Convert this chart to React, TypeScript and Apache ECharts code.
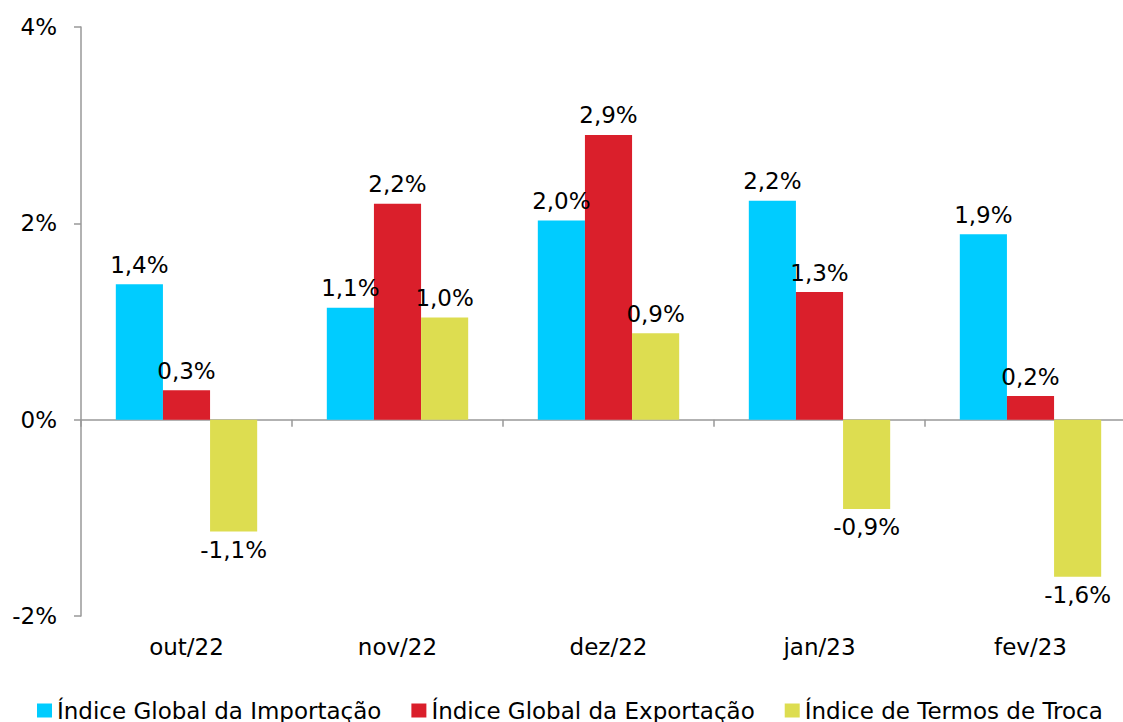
import React, { useEffect, useRef } from "react";
import * as echarts from "echarts";

const categories = ["out/22", "nov/22", "dez/22", "jan/23", "fev/23"];
const seriesNames = [
  "Índice Global da Importação",
  "Índice Global da Exportação",
  "Índice de Termos de Troca",
];
const importacao = [1.38, 1.14, 2.03, 2.23, 1.89];
const exportacao = [0.3, 2.2, 2.9, 1.3, 0.24];
const termos = [-1.14, 1.04, 0.88, -0.91, -1.6];
const colors = ["#00CCFF", "#DA1F2B", "#DDDD50"];
const yTicks = { min: -2, max: 4, interval: 2 };

const FONT = "'DejaVu Sans', 'Liberation Sans', Arial, sans-serif";
const FS = 23;

function fmt(v: number) {
  return v.toFixed(1).replace(".", ",") + "%";
}

export default function App() {
  const ref = useRef<HTMLDivElement>(null);
  useEffect(() => {
    if (!ref.current) return;
    const chart = echarts.init(ref.current, null, { renderer: "svg" });
    const all = [importacao, exportacao, termos];
    chart.setOption({
      animation: false,
      textStyle: { fontFamily: FONT },
      grid: {
        left: 81,
        top: 27,
        bottom: 106,
        width: 1055,
        containLabel: false,
        outerBoundsMode: "none",
      },
      legend: {
        left: 32,
        top: 694,
        width: 1400,
        itemWidth: 15,
        itemHeight: 14,
        itemGap: 30,
        icon: "rect",
        textStyle: { fontSize: FS, color: "#000", fontFamily: FONT },
        data: seriesNames,
      },
      xAxis: [
        {
          type: "category",
          data: categories,
          position: "bottom",
          axisLine: { show: false, onZero: false },
          axisTick: { show: false },
          axisLabel: { fontSize: FS, color: "#000", margin: 19, fontFamily: FONT },
        },
        {
          type: "category",
          data: categories,
          position: "bottom",
          axisLine: { show: true, onZero: true, lineStyle: { color: "#999", width: 1.5 } },
          axisTick: { show: true, length: 7, lineStyle: { color: "#999", width: 1.5 } },
          axisLabel: { show: false },
        },
      ],
      yAxis: {
        type: "value",
        min: yTicks.min,
        max: yTicks.max,
        interval: yTicks.interval,
        axisLine: { show: true, lineStyle: { color: "#999", width: 1.5 } },
        axisTick: { show: true, length: 7, lineStyle: { color: "#999", width: 1.5 } },
        splitLine: { show: false },
        axisLabel: {
          fontSize: FS,
          color: "#000",
          margin: 24,
          fontFamily: FONT,
          formatter: (v: number) => v + "%",
        },
      },
      series: all.map((vals, i) => ({
        name: seriesNames[i],
        type: "bar",
        xAxisIndex: 0,
        barGap: "0%",
        barCategoryGap: "33%",
        itemStyle: { color: colors[i] },
        label: {
          show: true,
          fontSize: FS,
          color: "#000",
          fontFamily: FONT,
          formatter: (p: any) => fmt(p.value),
        },
        data: vals.map((v) => ({
          value: v,
          label: { position: v >= 0 ? "top" : "bottom", distance: v >= 0 ? 8 : 7 },
        })),
      })),
    });
    return () => chart.dispose();
  }, []);
  return <div ref={ref} style={{ width: 1123, height: 722, position: "absolute", left: 0, top: 0 }} />;
}
